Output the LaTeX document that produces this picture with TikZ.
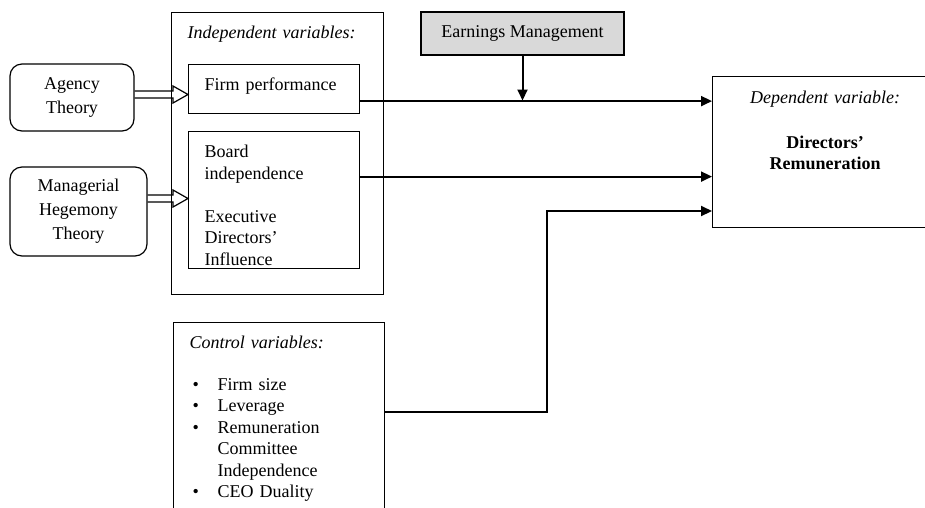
\documentclass[tikz,border=0pt]{standalone}
\usepackage{fontspec}
\setmainfont{Liberation Serif}
\usetikzlibrary{arrows.meta,calc}

\begin{document}
\begin{tikzpicture}[x=1pt,y=1pt,font=\fontsize{18}{21.5}\selectfont,
  box/.style={draw, line width=1.2pt, inner sep=0pt},
  theorybox/.style={box, rounded corners=12pt, align=center, font=\fontsize{18}{24}\selectfont},
  varbox/.style={box, anchor=north west, align=left, inner xsep=16pt, inner ysep=0pt, text height=26pt},
  link/.style={line width=2pt, -{Triangle[length=11pt,width=10pt]}},
  fat/.style={line width=1.2pt}]
  \useasboundingbox (0,0) rectangle (925,-507);

  % theories
  \node[theorybox, minimum width=124pt, minimum height=67pt] (agency) at (72,-97.5) {Agency\\Theory};
  \node[theorybox, minimum width=137pt, minimum height=89pt] (hegemony) at (78.5,-211.5) {Managerial\\Hegemony\\Theory};

  % variables
  \node[varbox, text width=180pt, text depth=256pt] (indep) at (171,-12) {\textit{Independent variables:}};
  \node[varbox, text width=139pt, text depth=23pt] (firm) at (188,-64) {Firm performance};
  \node[varbox, text width=139pt, text depth=111pt] (board) at (188,-131) {Board\\independence\\[21.5pt]Executive\\Directors'\\Influence};
  \node[varbox, text width=179pt, text depth=182pt] (ctrl) at (173,-322) {\textit{Control variables:}\\[20pt]
    \hspace*{3pt}\makebox[25pt][l]{\textbullet}Firm size\\
    \hspace*{3pt}\makebox[25pt][l]{\textbullet}Leverage\\
    \hspace*{3pt}\makebox[25pt][l]{\textbullet}Remuneration\\
    \hspace*{28pt}Committee\\
    \hspace*{28pt}Independence\\
    \hspace*{3pt}\makebox[25pt][l]{\textbullet}CEO Duality};
  \node[box, fill=gray!30, minimum width=203pt, minimum height=43pt] (earn) at (522.5,-33.5) {Earnings Management};
  \node[box, anchor=north west, align=center, text width=225pt, text height=27pt, text depth=124pt] (dep) at (712,-76)
    {\textit{Dependent variable:}\\[23pt]\textbf{Directors'}\\\textbf{Remuneration}};

  % theory arrows
  \draw[fat] ($(agency.east |- 0,-94.5)+(0,3.5)$) -- ($(firm.west |- 0,-94.5)+(-15,3.5)$) -- ++(0,5)
    -- (firm.west |- 0,-94.5) -- ++(-15,-8.5) -- ++(0,5) -- ($(agency.east |- 0,-94.5)+(0,-3.5)$);
  \draw[fat] ($(hegemony.east |- 0,-198.5)+(0,3.5)$) -- ($(board.west |- 0,-198.5)+(-15,3.5)$) -- ++(0,5)
    -- (board.west |- 0,-198.5) -- ++(-15,-8.5) -- ++(0,5) -- ($(hegemony.east |- 0,-198.5)+(0,-3.5)$);

  % links
  \draw[link] ([yshift=-12pt]firm.east) -- ([yshift=-12pt]firm.east -| dep.west);
  \draw[link] (earn.south) -- (earn.south |- 0,-100.5);
  \draw[link] ([yshift=23.5pt]board.east) -- ([yshift=23.5pt]board.east -| dep.west);
  \coordinate (elbow) at (547,-211);
  \draw[link] ([yshift=15pt]ctrl.east) -| (elbow) -- (elbow -| dep.west);
\end{tikzpicture}
\end{document}
